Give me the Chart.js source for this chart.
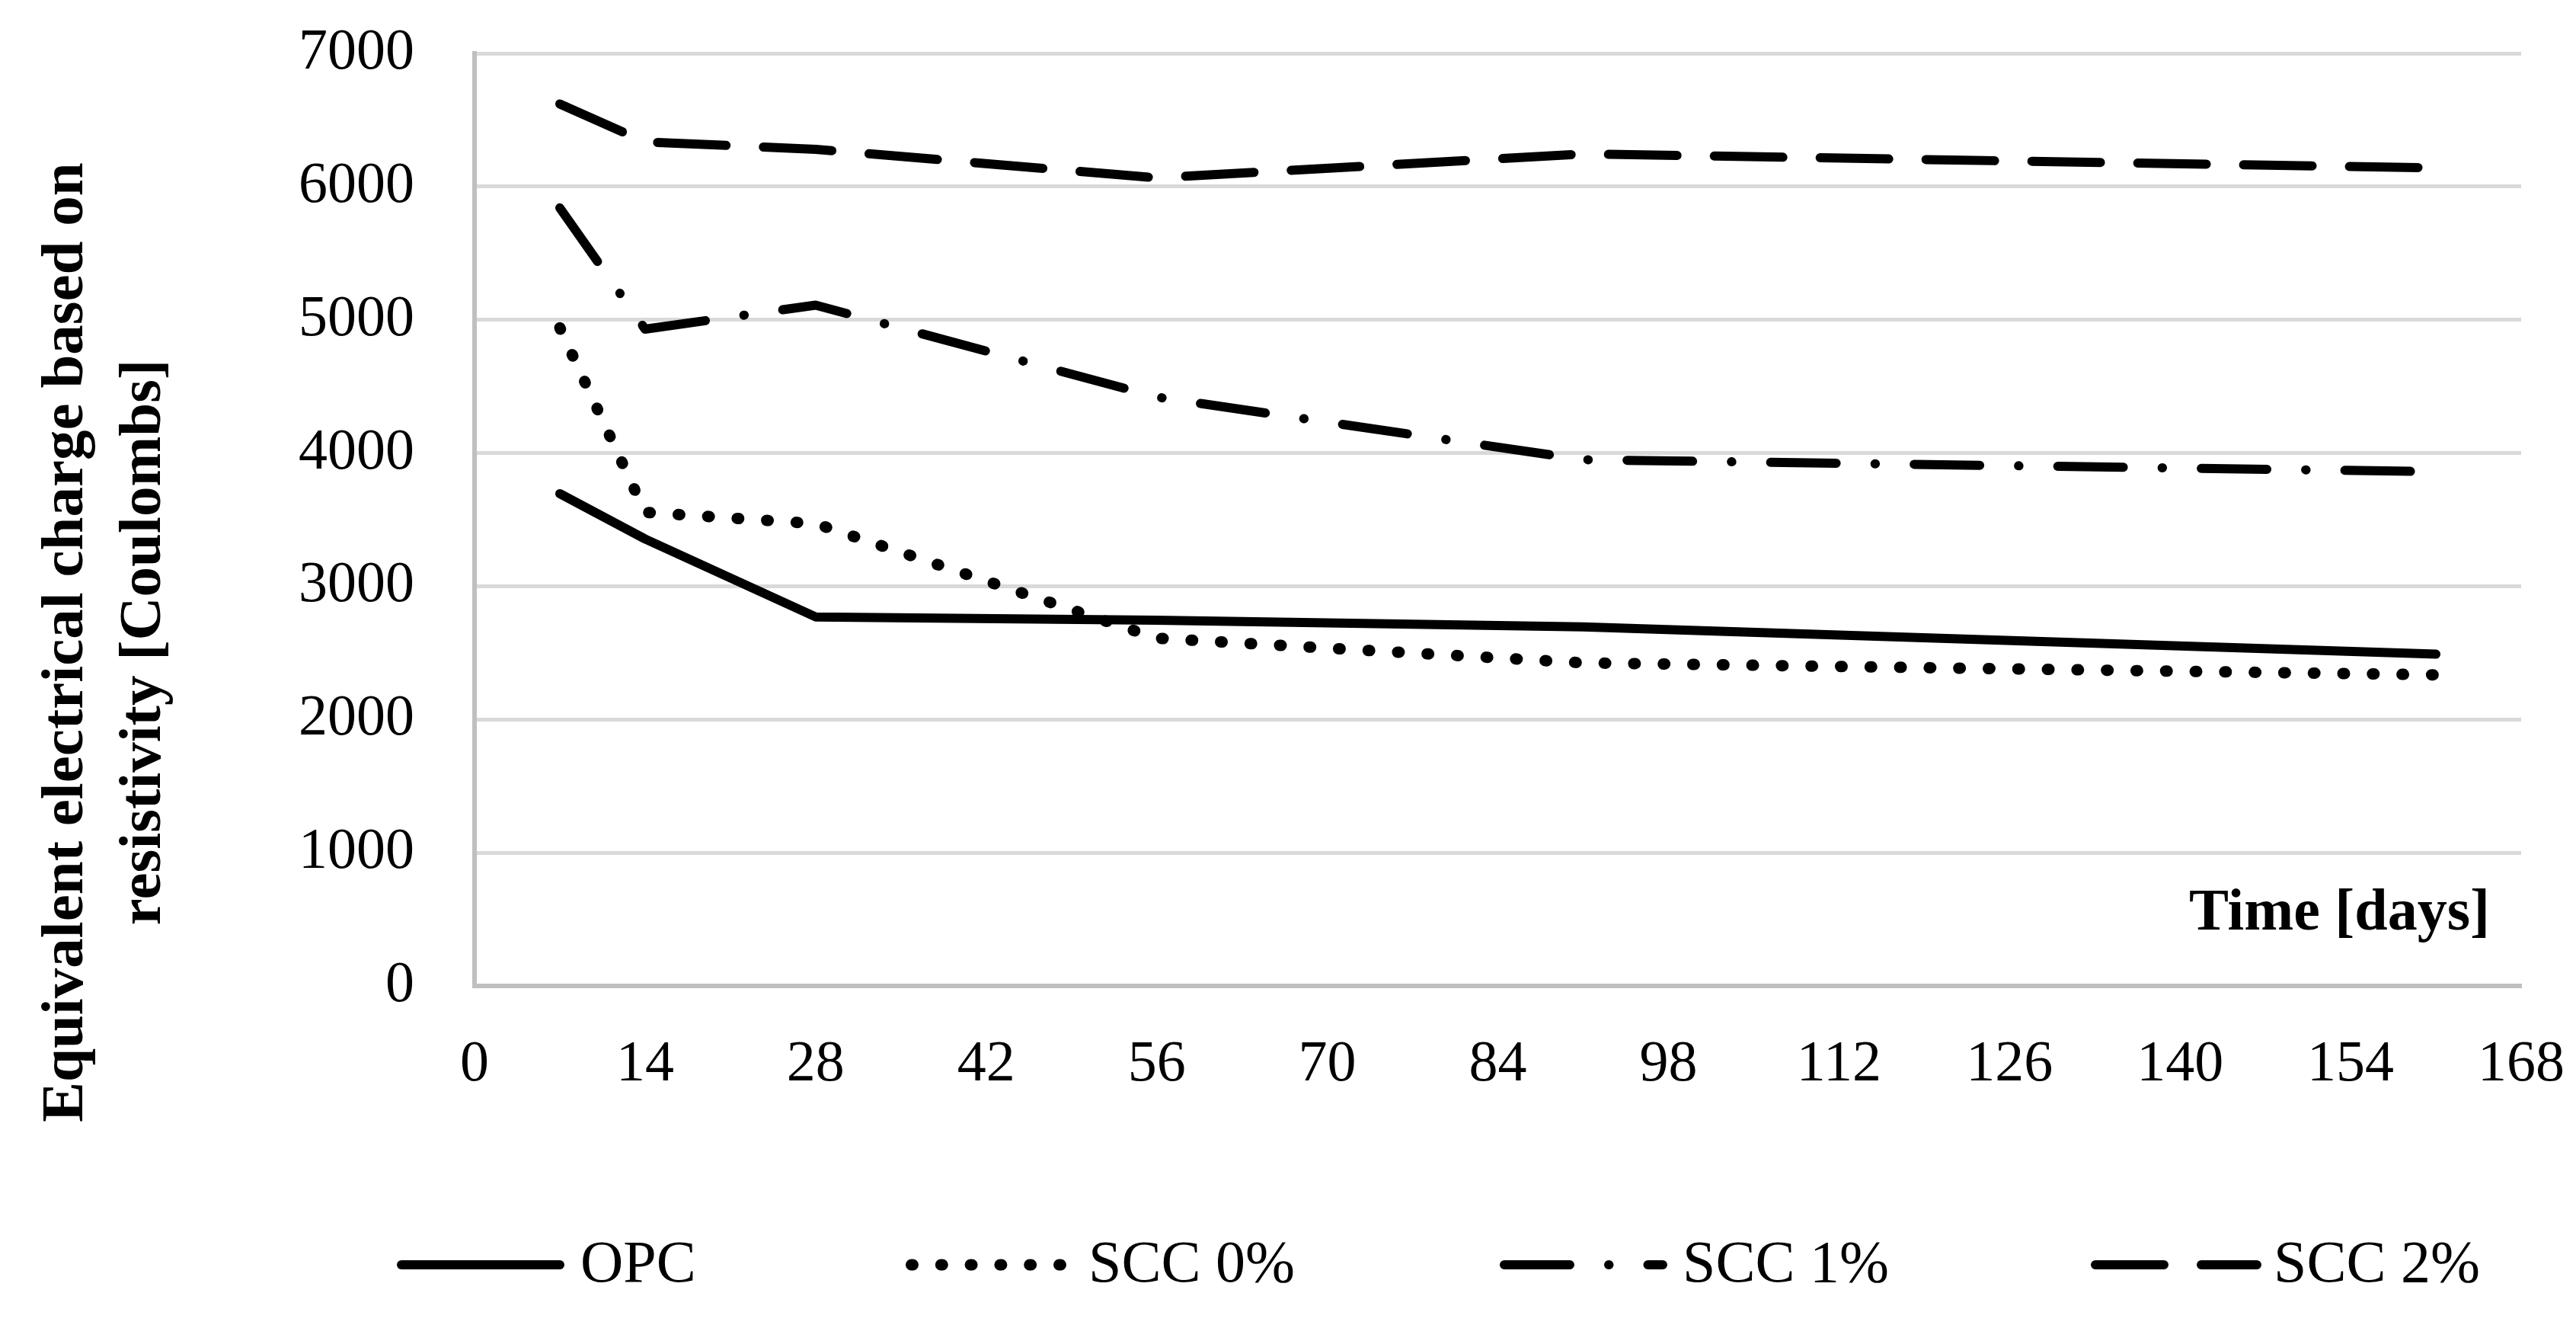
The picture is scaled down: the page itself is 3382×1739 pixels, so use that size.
<!DOCTYPE html>
<html>
<head>
<meta charset="utf-8">
<script src="https://cdn.jsdelivr.net/npm/chart.js@4"></script>
<style>
  html, body { margin: 0; padding: 0; background: #fff; overflow: hidden; }
  #wrap { width: 3382px; height: 1739px; }
</style>
</head>
<body>
<div id="wrap"><canvas id="c" width="3382" height="1739"></canvas></div>
<script>
// ---- data ----
const days = [7, 14, 28, 56, 91, 161];
const opc  = [3695, 3355, 2770, 2745, 2695, 2490];
const scc0 = [4940, 3555, 3470, 2610, 2425, 2335];
const scc1 = [5840, 4930, 5110, 4420, 3950, 3860];
const scc2 = [6620, 6335, 6280, 6065, 6245, 6140];
const seriesNames = ['OPC', 'SCC 0%', 'SCC 1%', 'SCC 2%'];
const xTicks = [0, 14, 28, 42, 56, 70, 84, 98, 112, 126, 140, 154, 168];
const yTicks = [0, 1000, 2000, 3000, 4000, 5000, 6000, 7000];
const yTitle = ['Equivalent electrical charge based on', 'resistivity [Coulombs]'];
const xTitle = 'Time [days]';

const toPts = arr => days.map((d, i) => ({x: d, y: arr[i]}));

const FONT = '"Liberation Serif", "Times New Roman", serif';
const styles = [
  {dash: [], width: 12},
  {dash: [2, 36.8], width: 15},
  {dash: [86, 51, 0.5, 51], width: 12},
  {dash: [90, 49], width: 12}
];
const values = [opc, scc0, scc1, scc2];

const datasets = values.map((v, i) => ({
  label: seriesNames[i],
  data: toPts(v),
  borderColor: '#000',
  backgroundColor: '#000',
  borderWidth: styles[i].width,
  borderDash: styles[i].dash,
  borderCapStyle: 'round',
  borderJoinStyle: 'round',
  pointRadius: 0,
  pointHoverRadius: 0,
  tension: 0,
  fill: false
}));

// legend layout (pixel positions of the legend row)
const legendPos = [
  {x0: 521, x1: 741, tx: 762},
  {x0: 1189, x1: 1403, tx: 1429},
  {x0: 1969, x1: 2189, tx: 2209},
  {x0: 2745, x1: 2969, tx: 2985}
];

const extras = {
  id: 'extras',
  afterDraw(chart) {
    const ctx = chart.ctx;
    ctx.save();
    ctx.fillStyle = '#000';
    // y axis title (rotated, two lines)
    ctx.font = 'bold 79px ' + FONT;
    ctx.textAlign = 'center';
    ctx.textBaseline = 'alphabetic';
    const baseX = [108, 210];
    yTitle.forEach((t, i) => {
      ctx.save();
      ctx.translate(baseX[i], 843);
      ctx.rotate(-Math.PI / 2);
      ctx.fillText(t, 0, 0);
      ctx.restore();
    });
    // x axis title inside plot
    ctx.font = 'bold 78px ' + FONT;
    ctx.textAlign = 'right';
    ctx.fillText(xTitle, 3269, 1220);
    // legend
    ctx.font = '78px ' + FONT;
    ctx.textAlign = 'left';
    chart.data.datasets.forEach((ds, i) => {
      const p = legendPos[i];
      const w = ds.borderWidth;
      ctx.save();
      ctx.strokeStyle = ds.borderColor;
      ctx.lineWidth = w;
      ctx.lineCap = 'round';
      ctx.setLineDash(ds.borderDash);
      ctx.beginPath();
      ctx.moveTo(p.x0 + w / 2, 1660);
      ctx.lineTo(p.x1 - w / 2, 1660);
      ctx.stroke();
      ctx.restore();
      ctx.fillText(ds.label, p.tx, 1682);
    });
    ctx.restore();
  }
};

new Chart(document.getElementById('c'), {
  type: 'line',
  data: { datasets },
  options: {
    responsive: false,
    devicePixelRatio: 1,
    animation: false,
    layout: { padding: { left: 0, right: 72, top: 70, bottom: 245 } },
    plugins: { legend: { display: false }, tooltip: { enabled: false } },
    scales: {
      x: {
        type: 'linear',
        min: 0, max: 168,
        afterBuildTicks: s => { s.ticks = xTicks.map(v => ({value: v})); },
        afterFit: s => { s.height = 200; s.paddingLeft = 0; s.paddingRight = 0; },
        ticks: {
          font: { family: FONT, size: 76 }, color: '#000', padding: 58,
          maxRotation: 0, autoSkip: false, callback: v => String(v)
        },
        grid: { drawOnChartArea: false, drawTicks: false },
        border: { display: true, color: '#bfbfbf', width: 6 }
      },
      y: {
        min: 0, max: 7000,
        afterBuildTicks: s => { s.ticks = yTicks.map(v => ({value: v})); },
        afterFit: s => { s.width = 623; s.paddingTop = 0; s.paddingBottom = 0; },
        ticks: { font: { family: FONT, size: 76 }, color: '#000', padding: 79, callback: v => String(v) },
        grid: {
          drawTicks: false,
          color: c => (c.tick && c.tick.value === 0) ? '#bfbfbf' : '#d9d9d9',
          lineWidth: c => (c.tick && c.tick.value === 0) ? 6 : 5
        },
        border: { display: true, color: '#bfbfbf', width: 6 }
      }
    }
  },
  plugins: [extras]
});
</script>
</body>
</html>
